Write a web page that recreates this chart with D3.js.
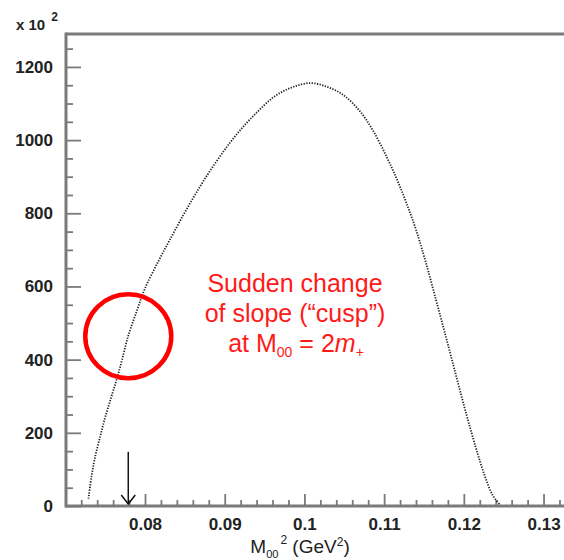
<!DOCTYPE html>
<html>
<head>
<meta charset="utf-8">
<script src="https://cdn.jsdelivr.net/npm/d3@7"></script>
<style>
  html, body { margin: 0; padding: 0; background: #fff; }
  svg { display: block; }
  text { font-family: "Liberation Sans", Arial, Helvetica, sans-serif; }
</style>
</head>
<body>
<svg id="chart" width="564" height="560"></svg>
<script>
// ---- data ----
const massSq = [0.0729,0.0733,0.0737,0.0744,0.0750,0.0758,0.0765,0.0771,0.0779,0.0790,0.0800,0.0817,0.0831,0.0848,0.0861,0.0873,0.0890,0.0907,0.0923,0.0940,0.0961,0.0982,0.1007,0.1028,0.1049,0.1070,0.1086,0.1103,0.1116,0.1128,0.1140,0.1152,0.1166,0.1179,0.1191,0.1203,0.1215,0.1226,0.1236,0.1245];
const counts = [20,82,130,192,242,300,350,398,465,535,595,670,727,795,844,887,943,994,1036,1075,1117,1142,1156,1146,1123,1078,1026,955,893,828,755,668,556,450,350,252,160,84,30,4];
const xMajorTicks = [0.08,0.09,0.10,0.11,0.12,0.13];
const xTickLabels = ["0.08","0.09","0.1","0.11","0.12","0.13"];
const yMajorTicks = [0,200,400,600,800,1000,1200];
const yTickLabels = ["0","200","400","600","800","1000","1200"];
const cuspMassSq = 0.0779;   // (2 m+)^2
const annotationLines = ["Sudden change", "of slope (\u201Ccusp\u201D)"];

// ---- scales ----
const svg = d3.select("#chart");
const x = d3.scaleLinear().domain([0.07, 0.135]).range([65.3, 583.4]);
const y = d3.scaleLinear().domain([0, 1290]).range([506, 34]);
const axisColor = "#7a7a7a";

// minor ticks
const xMinor = d3.range(0.072, 0.1345, 0.002).filter(v => !xMajorTicks.some(m => Math.abs(m - v) < 1e-6));
const yMinor = d3.range(50, 1290, 50).filter(v => v % 200 !== 0);

// x axis
const gx = svg.append("g").attr("transform", `translate(0,${y(0)})`);
gx.call(d3.axisBottom(x).tickValues(xMajorTicks).tickSizeInner(-12).tickSizeOuter(0).tickPadding(12)
  .tickFormat((d, i) => xTickLabels[i]));
const gxm = svg.append("g").attr("transform", `translate(0,${y(0)})`);
gxm.call(d3.axisBottom(x).tickValues(xMinor).tickSizeInner(-6).tickSizeOuter(0).tickFormat(""));

// y axis
const x0 = x(0.07) + 0.7;
const gy = svg.append("g").attr("transform", `translate(${x0},0)`);
gy.call(d3.axisLeft(y).tickValues(yMajorTicks).tickSizeInner(-15).tickSizeOuter(0).tickPadding(13)
  .tickFormat((d, i) => yTickLabels[i]));
const gym = svg.append("g").attr("transform", `translate(${x0},0)`);
gym.call(d3.axisLeft(y).tickValues(yMinor).tickSizeInner(-7).tickSizeOuter(0).tickFormat(""));

svg.selectAll(".domain").remove();
svg.selectAll(".tick line").attr("stroke", axisColor).attr("stroke-width", 1.8);
svg.selectAll(".tick text").attr("font-size", 17).attr("font-weight", "bold").attr("fill", "#222")
  .attr("font-family", "'Liberation Sans', Arial, sans-serif");

// frame lines
svg.append("line").attr("x1", x0).attr("x2", 600).attr("y1", y(0)).attr("y2", y(0))
  .attr("stroke", axisColor).attr("stroke-width", 3);
svg.append("line").attr("x1", x0).attr("x2", 600).attr("y1", y(1290)).attr("y2", y(1290))
  .attr("stroke", axisColor).attr("stroke-width", 3);
svg.append("line").attr("x1", x0).attr("x2", x0).attr("y1", y(1290) - 1.5).attr("y2", y(0) + 1.5)
  .attr("stroke", axisColor).attr("stroke-width", 3);

// x 10^2 multiplier
const mult = svg.append("text").attr("x", 16).attr("y", 30).attr("font-size", 15).attr("font-weight", "bold").attr("fill", "#222");
mult.append("tspan").text("x 10");
mult.append("tspan").attr("font-size", 12).attr("dx", 6).attr("dy", -9).text("2");

// x axis title
const xt = svg.append("text").attr("x", 300).attr("y", 553).attr("text-anchor", "middle")
  .attr("font-size", 19).attr("fill", "#222");
xt.append("tspan").text("M");
xt.append("tspan").attr("font-size", 11).attr("dy", 5).text("00");
xt.append("tspan").attr("font-size", 12).attr("dy", -14).attr("dx", 2).text("2");
xt.append("tspan").attr("dy", 9).text(" (GeV");
xt.append("tspan").attr("font-size", 12).attr("dy", -7).text("2");
xt.append("tspan").attr("dy", 7).text(")");

// histogram curve (dotted)
const line = d3.line().x((d, i) => x(massSq[i])).y(d => y(d)).curve(d3.curveCatmullRom.alpha(0.5));
svg.append("path").datum(counts).attr("d", line).attr("fill", "none")
  .attr("stroke", "#222").attr("stroke-width", 1.8).attr("stroke-dasharray", "1.3,1.4");

// arrow at threshold
const ax = x(cuspMassSq);
svg.append("line").attr("x1", ax).attr("x2", ax).attr("y1", y(148)).attr("y2", y(0) - 2)
  .attr("stroke", "#111").attr("stroke-width", 1.5);
svg.append("path").attr("d", `M${ax-7},${y(0)-11} L${ax},${y(0)-2} L${ax+7},${y(0)-11}`)
  .attr("fill", "none").attr("stroke", "#111").attr("stroke-width", 1.5);

// red circle
svg.append("ellipse").attr("cx", x(cuspMassSq)).attr("cy", y(464)).attr("rx", 43).attr("ry", 42)
  .attr("fill", "none").attr("stroke", "#ff0000").attr("stroke-width", 4.5);

// red annotation
const red = "#ff1a1a";
annotationLines.forEach((t, i) => {
  svg.append("text").attr("x", 295).attr("y", 292 + i * 30).attr("text-anchor", "middle")
    .attr("font-size", 25).attr("fill", red).text(t);
});
const l3 = svg.append("text").attr("x", 296).attr("y", 352).attr("text-anchor", "middle")
  .attr("font-size", 25).attr("fill", red);
l3.append("tspan").text("at M");
l3.append("tspan").attr("font-size", 14).attr("dy", 5).text("00");
l3.append("tspan").attr("dy", -5).text(" = 2");
l3.append("tspan").attr("font-style", "italic").text("m");
l3.append("tspan").attr("font-size", 14).attr("dy", 5).text("+");
</script>
</body>
</html>
